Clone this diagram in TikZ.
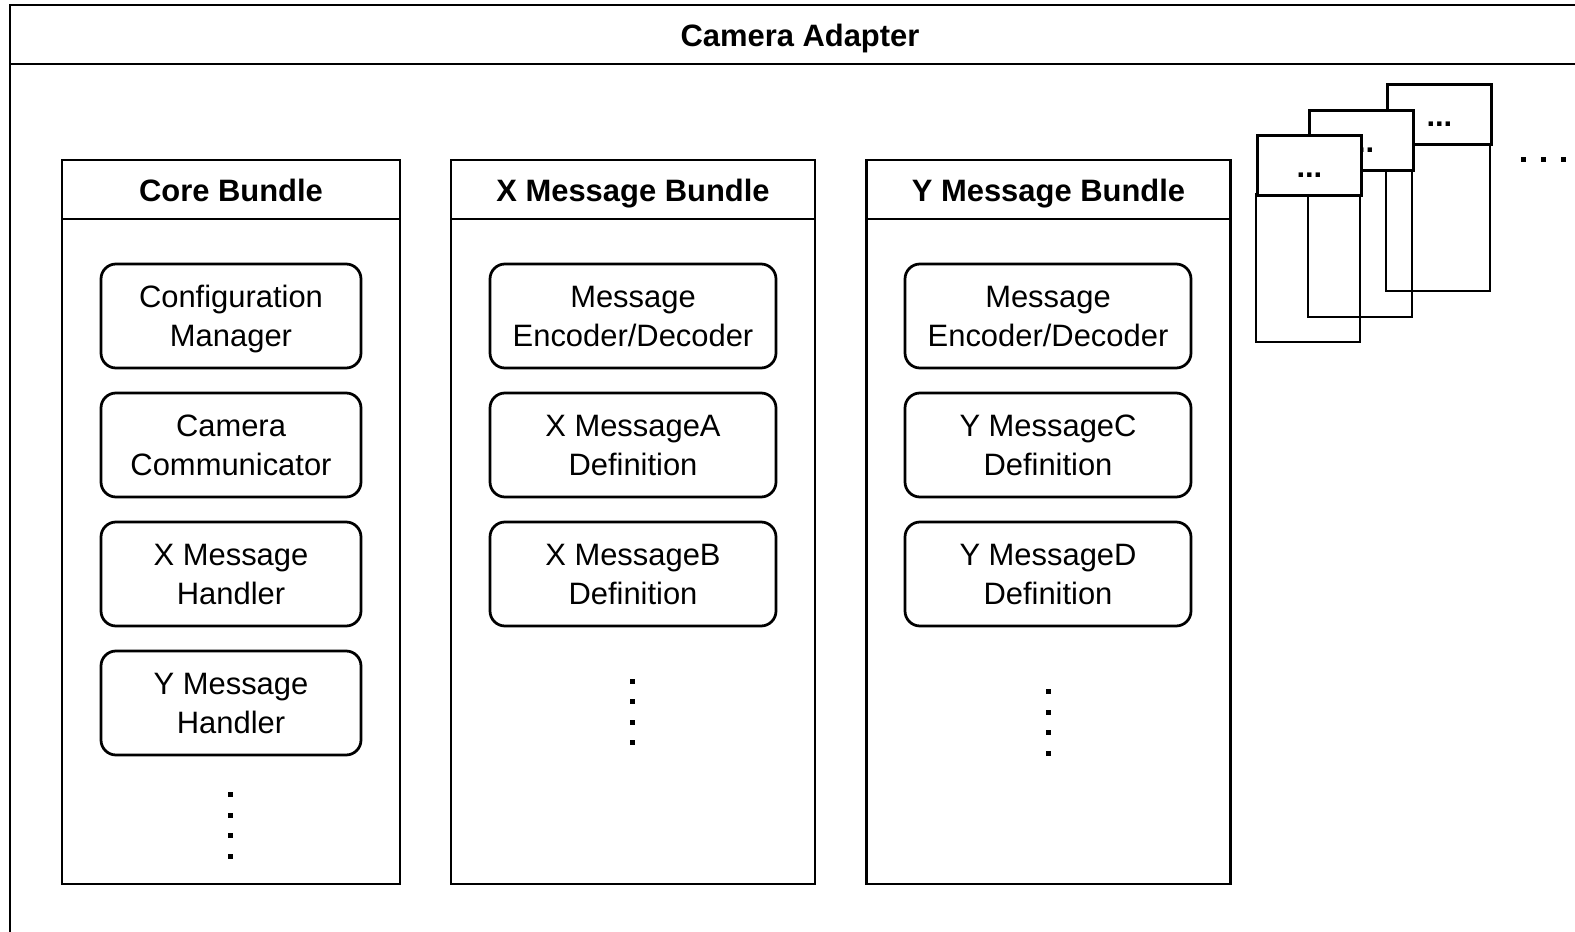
\documentclass[tikz,border=0pt]{standalone}
\usepackage{fontspec}
\setmainfont{Liberation Sans}
\usetikzlibrary{positioning}

\def\px{0.02cm}
\tikzset{
  struts/.style 2 args={execute at begin node={\rule{0pt}{#1}},
    execute at end node={\rule[-#2]{0pt}{#2}}},
  txt/.style={font=\fontsize{17.6}{22}\selectfont, struts={38.5pt}{4pt}},
  boldtxt/.style={font=\bfseries\fontsize{17.6}{22}\selectfont, struts={17pt}{3pt}},
  bundle/.style={draw, inner sep=0pt, minimum width=#1*\px, minimum height=724*\px},
  bundlehead/.style={draw, fill=white, boldtxt, inner sep=0pt,
    minimum width=#1*\px, minimum height=59*\px},
  part/.style={draw, rounded corners=0.3cm, txt, align=center, inner sep=0pt,
    minimum width=#1*\px, minimum height=104*\px},
  stackhead/.style={draw, fill=white, boldtxt, inner sep=0pt,
    minimum width=104*\px, minimum height=60*\px},
}

\begin{document}
\begin{tikzpicture}[x=\px, y=-\px, line width=0.055cm]

		% 0. Lienzo (1575 x 932 px)
		\useasboundingbox (0,0) rectangle (1575,932);
		\clip (0,0) rectangle (1575,932);

		% 1. Marco exterior: Camera Adapter
		\draw (10,5) rectangle (1590,950);
		\draw (10,64) -- (1590,64);
		\node[boldtxt] (adapter) at (800,34.5) {Camera Adapter};

		% 2. Bundles
		\node[bundle=338] (core) at (231,522) {};
		\node[bundlehead=338, anchor=north] (corehead) at (core.north) {Core Bundle};

		\node[bundle=364] (xb) at (633,522) {};
		\node[bundlehead=364, anchor=north] (xbhead) at (xb.north) {X Message Bundle};

		\node[bundle=364] (yb) at (1048.5,522) {};
		\node[bundlehead=364, anchor=north] (ybhead) at (yb.north) {Y Message Bundle};

		% 3. Componentes de cada bundle
		\node[part=260] (config)  at (231,316) {Configuration\\Manager};
		\node[part=260] (comm)    at (231,445) {Camera\\Communicator};
		\node[part=260] (xhandle) at (231,574) {X Message\\Handler};
		\node[part=260] (yhandle) at (231,703) {Y Message\\Handler};

		\node[part=286] (xcodec) at (633,316) {Message\\Encoder/Decoder};
		\node[part=286] (xmsga)  at (633,445) {X MessageA\\Definition};
		\node[part=286] (xmsgb)  at (633,574) {X MessageB\\Definition};

		\node[part=286] (ycodec) at (1048,316) {Message\\Encoder/Decoder};
		\node[part=286] (ymsgc)  at (1048,445) {Y MessageC\\Definition};
		\node[part=286] (ymsgd)  at (1048,574) {Y MessageD\\Definition};

		% Puntos verticales
		\foreach \y in {794, 815, 835.5, 856}
		\fill (230,\y) ++(-2.5,-2.5) rectangle ++(5,5);

		\foreach \y in {681, 701.5, 722, 742.5}
		\fill (632.5,\y) ++(-2.5,-2.5) rectangle ++(5,5);

		\foreach \y in {691, 712, 732, 753}
		\fill (1048,\y) ++(-2.5,-2.5) rectangle ++(5,5);

		% 4. Bundles apilados (mas bundles)
		\foreach \nm/\x/\y in {stackback/1386/83, stackmid/1308/109, stackfront/1256/134} {
			\draw (\x,\y+60) rectangle ++(104,148);
			\node[stackhead, anchor=north west] (\nm) at (\x,\y) {...};
		}

		% Puntos horizontales
		\foreach \x in {1523, 1543, 1563}
		\fill (\x,160) ++(-2.5,-2.5) rectangle ++(5,5);

	\end{tikzpicture}
\end{document}
